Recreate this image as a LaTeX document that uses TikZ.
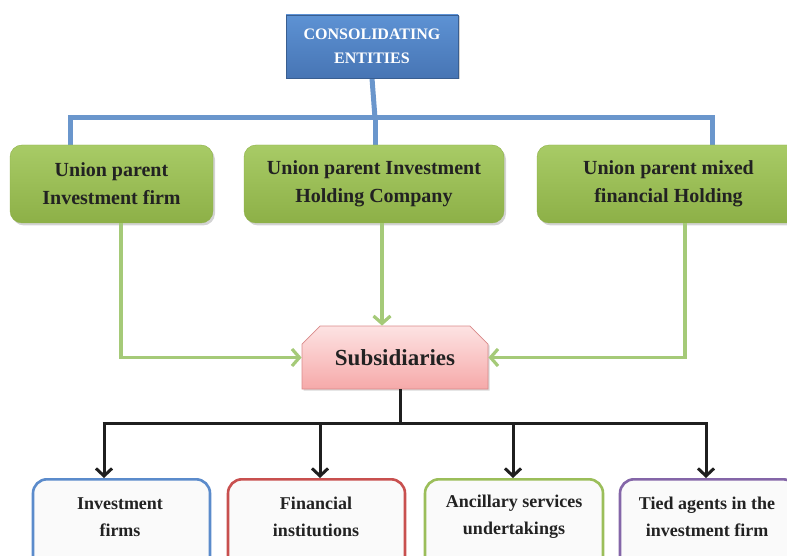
\documentclass[tikz,border=0pt]{standalone}
\usepackage{fontspec}
\setmainfont{Liberation Serif}[BoldFont={Liberation Serif Bold}]
\usetikzlibrary{shapes.misc,shadows,arrows.meta,calc}
\pgfdeclarelayer{background}
\pgfsetlayers{background,main}
\definecolor{topA}{HTML}{5D92D4}
\definecolor{topB}{HTML}{4775B4}
\definecolor{blueln}{HTML}{6A96CC}
\definecolor{grA}{HTML}{A8CB66}
\definecolor{grB}{HTML}{8DB047}
\definecolor{grln}{HTML}{A5CA78}
\definecolor{pkA}{HTML}{FDE3E3}
\definecolor{pkB}{HTML}{F6A9A9}
\definecolor{pkln}{HTML}{D98A8A}
\definecolor{bBlue}{HTML}{5B8BCB}
\definecolor{bRed}{HTML}{C8504F}
\definecolor{bGreen}{HTML}{9BBE5A}
\definecolor{bPurple}{HTML}{8466A8}
\definecolor{txt}{HTML}{222222}
\tikzset{
  topbox/.style={draw=topB!80!black, line width=0.6pt, top color=topA, bottom color=topB,
    minimum width=172pt, minimum height=63pt, align=center, text=white,
    font=\fontsize{16}{24}\selectfont\bfseries,
    drop shadow={shadow xshift=1.5pt, shadow yshift=-1.5pt, opacity=0.35}},
  greenbox/.style={rounded corners=12pt, top color=grA, bottom color=grB, draw=grB,
    minimum height=78pt, align=center, text=txt,
    font=\fontsize{20}{28}\selectfont\bfseries,
    drop shadow={shadow xshift=2pt, shadow yshift=-2.5pt, opacity=0.35}},
  subbox/.style={chamfered rectangle, chamfered rectangle corners={north west,north east},
    chamfered rectangle xsep=10pt, chamfered rectangle ysep=10pt,
    top color=pkA, bottom color=pkB, draw=pkln, line width=0.8pt,
    minimum width=186pt, minimum height=63pt, inner sep=0pt,
    font=\fontsize{23}{28}\selectfont\bfseries, text=txt,
    drop shadow={shadow xshift=1.5pt, shadow yshift=-1.5pt, opacity=0.3}},
  botbox/.style={rounded corners=14pt, fill=white!98!black, line width=2.6pt,
    minimum width=177pt, minimum height=110pt, anchor=north},
  bottxt/.style={align=center, text=txt, font=\fontsize{18}{27}\selectfont\bfseries},
  blueline/.style={draw=blueln, line width=5pt},
  greenarr/.style={draw=grln, line width=3.2pt, -{Straight Barb[length=7.5pt,width=17pt]}},
  blackline/.style={draw=black!88, line width=3pt},
  blackarr/.style={draw=black!88, line width=3pt, -{Straight Barb[length=7.5pt,width=16pt]}}
}
\begin{document}
\begin{tikzpicture}[x=1pt,y=-1pt]
\useasboundingbox (0,0) rectangle (787,556);
\coordinate (bj) at (375,118);
\coordinate (sj) at (400,423);
\coordinate (s1) at (104,423);
\coordinate (s2) at (320,423);
\coordinate (s3) at (513,423);
\coordinate (s4) at (706,423);
\node[topbox] (top) at (372,46.5) {CONSOLIDATING\\ENTITIES};
\node[greenbox, minimum width=203pt] (g1) at (111.5,184) {Union parent\\Investment firm};
\node[greenbox, minimum width=260pt] (g2) at (374,184) {Union parent Investment\\Holding Company};
\node[greenbox, minimum width=263pt] (g3) at (668.5,184) {Union parent mixed\\financial Holding};
\begin{pgfonlayer}{background}
\draw[blueline] (top.south) -- (bj);
\draw[blueline] (bj) -| ([xshift=-41.5pt]g1.north);
\draw[blueline] (bj) -| ([xshift=43.5pt]g3.north);
\draw[blueline] (bj) -- (g2.north -| bj);
\end{pgfonlayer}
\node[subbox] (sub) at (395,357.5) {Subsidiaries};
\draw[greenarr] ([xshift=9.5pt]g1.south) |- (sub.west);
\draw[greenarr] ([xshift=8pt]g2.south) -- ([xshift=-13pt]sub.north);
\draw[greenarr] ([xshift=16.5pt]g3.south) |- (sub.east);
% bottom boxes
\node[botbox, draw=bBlue] (b1) at (121.5,478) {};
\node[botbox, draw=bRed] (b2) at (316.5,478) {};
\node[botbox, draw=bGreen, minimum width=178pt] (b3) at (514,478) {};
\node[botbox, draw=bPurple] (b4) at (708.5,478) {};
\node[bottxt] (t1) at (120,517) {Investment\\firms};
\node[bottxt] (t2) at (316,517) {Financial\\institutions};
\node[bottxt] (t3) at (514,517) {Ancillary services\\undertakings};
\node[bottxt] (t4) at (707,517) {Tied agents in the\\investment firm};
\draw[blackline] ([xshift=5pt]sub.south) -- (sj);
\draw[blackline] ([xshift=-1.5pt]s1) -- ([xshift=1.5pt]s4);
\draw[blackarr] (s1) -- (b1.north -| s1);
\draw[blackarr] (s2) -- (b2.north -| s2);
\draw[blackarr] (s3) -- (b3.north -| s3);
\draw[blackarr] (s4) -- (b4.north -| s4);
\end{tikzpicture}
\end{document}
